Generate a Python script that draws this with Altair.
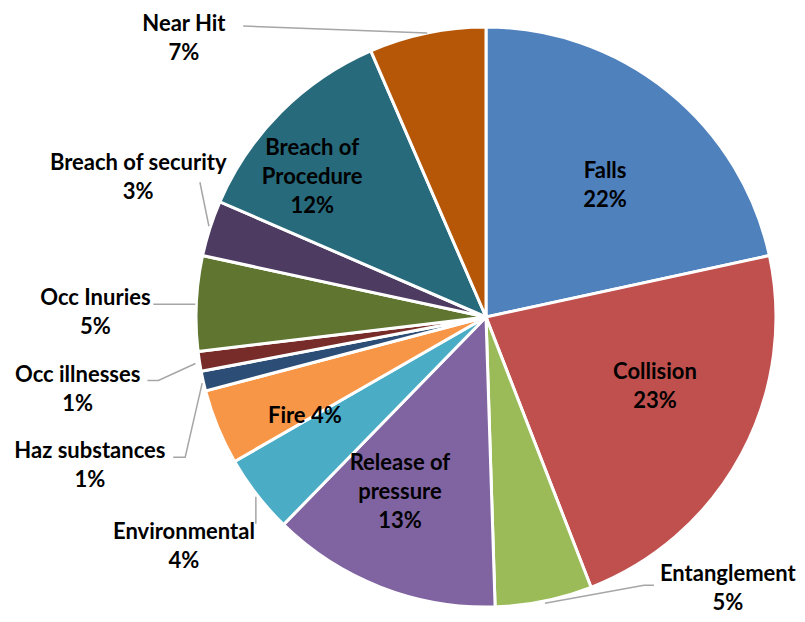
import altair as alt
import pandas as pd

# ---- data ----
categories = ["Falls", "Collision", "Entanglement", "Release of pressure", "Environmental",
              "Fire", "Haz substances", "Occ illnesses", "Occ Inuries", "Breach of security",
              "Breach of Procedure", "Near Hit"]
values = [21.6, 22.5, 5.4, 12.8, 4.4, 4.2, 1.1, 1.1, 5.3, 3.1, 12.0, 6.5]
pct_labels = ["22%", "23%", "5%", "13%", "4%", "4%", "1%", "1%", "5%", "3%", "12%", "7%"]
display_names = ["Falls", "Collision", "Entanglement", "Release of\npressure", "Environmental",
                 "Fire", "Haz substances", "Occ illnesses", "Occ Inuries", "Breach of security",
                 "Breach of\nProcedure", "Near Hit"]
colors = ["#4F81BD", "#C0504D", "#9BBB59", "#8064A2", "#4BACC6", "#F79646",
          "#2C4D75", "#772C2A", "#5F7530", "#4D3B62", "#276A7C", "#B65708"]
single_line = {"Fire"}

labels = [n + (" " if c in single_line else "\n") + p
          for c, n, p in zip(categories, display_names, pct_labels)]
label_of = dict(zip(categories, labels))

df = pd.DataFrame({"category": categories, "value": values, "label": labels,
                   "order": list(range(len(categories)))})

# ---- layout ----
W, H = 789, 606
CX, CY = 478, 309
R = 290
R_IN, R_OUT = 185, 400
FONT = "Lato"
FS = 22
LH = 29

inside_nudge = {"Falls": (3, 13), "Collision": (6, -18), "Release of pressure": (-19, 3),
                "Fire": (-10, 29), "Breach of Procedure": (-43, -9)}
outside_nudge = {"Entanglement": (162, -120), "Environmental": (14, -16),
                 "Haz substances": (-6, 60), "Occ illnesses": (-13, 11),
                 "Occ Inuries": (9, 14), "Breach of security": (33, -17),
                 "Near Hit": (-221, 113)}
leader_paths = {
    "Near Hit": [(0, 0), (-184, -7)],
    "Breach of security": [(-1, -2), (-10, -46)],
    "Occ Inuries": [(-1, 1), (-43, 1)],
    "Occ illnesses": [(-4, 2), (-41, 19), (-52, 19)],
    "Haz substances": [(-1, 2), (-18, 76), (-30, 76)],
    "Environmental": [(-1, 2), (-1, 29)],
    "Entanglement": [(1, 2), (100, -16), (110, -16)],
}

theta_scale = alt.Scale(domain=[0, 100])

base = alt.Chart(df).transform_window(
    cum="sum(value)", sort=[alt.SortField("order")]
).transform_calculate(
    start="datum.cum - datum.value", mid="datum.cum - datum.value / 2", end="datum.cum"
)

pie = base.mark_arc(outerRadius=R, stroke="white", strokeWidth=3).encode(
    theta=alt.Theta("start:Q", scale=theta_scale, stack=False),
    theta2="end:Q",
    x=alt.value(CX), y=alt.value(CY),
    color=alt.Color("category:N", scale=alt.Scale(domain=categories, range=colors), legend=None),
)

layers = [pie]

for cat, (dx, dy) in list(inside_nudge.items()) + list(outside_nudge.items()):
    rad = R_IN if cat in inside_nudge else R_OUT
    nlines = label_of[cat].count("\n") + 1
    layers.append(
        base.transform_filter(alt.datum.category == cat).mark_text(
            font=FONT, fontSize=FS, fontWeight="bold", color="black",
            lineBreak="\n", lineHeight=LH, align="center", baseline="middle",
            dx=dx, dy=dy - (nlines - 1) * LH / 2,
        ).encode(
            theta=alt.Theta("mid:Q", scale=theta_scale, stack=False),
            radius=alt.value(rad),
            x=alt.value(CX), y=alt.value(CY),
            text="label:N",
        )
    )

# leader lines: start at slice edge at mid-angle, offsets are layout only
cum = 0.0
mids = {}
for c, v in zip(categories, values):
    mids[c] = cum + v / 2
    cum += v
rows = []
for cat, pts in leader_paths.items():
    for i, (ox, oy) in enumerate(pts):
        rows.append({"category": cat, "step": i, "ox": ox, "oy": oy, "mid": mids[cat]})
leader_df = pd.DataFrame(rows)

leaders = alt.Chart(leader_df).transform_calculate(
    lx=f"{CX} + {R} * sin(datum.mid * PI / 50) + datum.ox",
    ly=f"{CY} - {R} * cos(datum.mid * PI / 50) + datum.oy",
).mark_line(color="#A6A6A6", strokeWidth=1.5).encode(
    x=alt.X("lx:Q", scale=None),
    y=alt.Y("ly:Q", scale=None),
    detail="category:N",
    order="step:Q",
)
layers.append(leaders)

chart = alt.layer(*layers).properties(
    width=W, height=H, padding=0,
    autosize=alt.AutoSizeParams(type="none"),
).configure_view(stroke=None)

chart.save("out.html", embed_options={"renderer": "svg", "actions": False})
